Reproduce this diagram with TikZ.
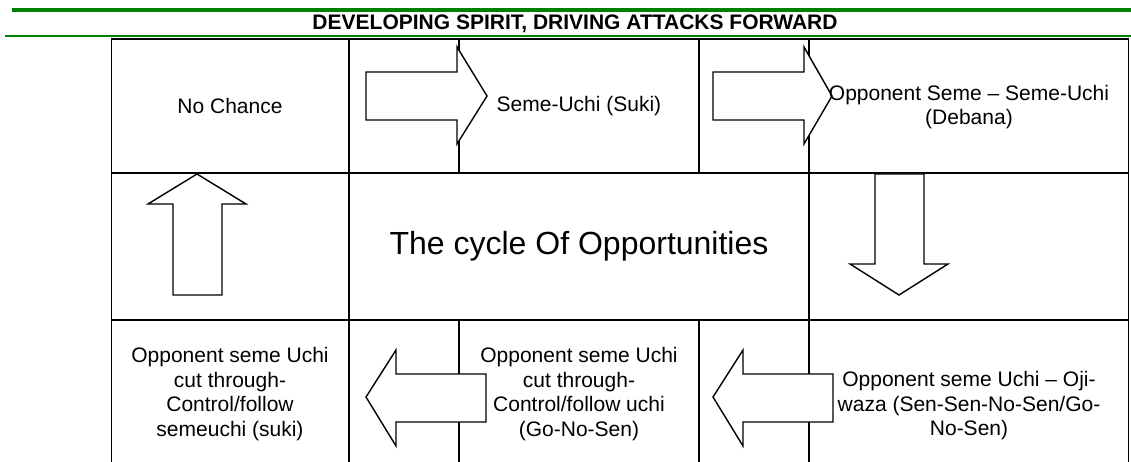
\documentclass[tikz,border=0pt]{standalone}
\usepackage{fontspec}
\setmainfont{Liberation Sans}
\definecolor{bargreen}{RGB}{0,128,0}

\begin{document}
\begin{tikzpicture}[
    x=1pt, y=-1pt,
    txt/.style={align=center, font=\fontsize{21}{24.5}\selectfont, inner sep=0pt},
    heading/.style={font=\fontsize{21}{24.5}\selectfont\bfseries, inner sep=0pt},
    big/.style={font=\fontsize{32}{38}\selectfont, inner sep=0pt},
    grid/.style={line width=1.8pt},
    blockarrow/.style={draw, fill=white, line width=1.4pt, line join=miter}
]
\useasboundingbox (0,0) rectangle (1131,462);

% green rules and heading
\draw[bargreen, line width=3.5pt] (12,10) -- (1131,10);
\draw[bargreen, line width=2pt] (5,36.3) -- (1131,36.3);
\node[heading] (title) at (575,24) {DEVELOPING SPIRIT, DRIVING ATTACKS FORWARD};

% table
\draw[grid] (111.5,462) -- (111.5,39) -- (1128.5,39) -- (1128.5,462);
\draw[grid] (111.5,173) -- (1128.5,173);
\draw[grid] (111.5,320) -- (1128.5,320);
\draw[grid] (349,39) -- (349,462);
\draw[grid] (809,39) -- (809,462);
\draw[grid] (459,39) -- (459,173) (459,320) -- (459,462);
\draw[grid] (699,39) -- (699,173) (699,320) -- (699,462);

% block arrows
\draw[blockarrow] (366,72) -- (457,72) -- (457,47) -- (487,96) -- (457,144) -- (457,120) -- (366,120) -- cycle;
\draw[blockarrow] (713,72) -- (804,72) -- (804,47) -- (832,96) -- (804,144) -- (804,120) -- (713,120) -- cycle;
\draw[blockarrow] (875,174) -- (875,264) -- (850,264) -- (899,295) -- (948,264) -- (924,264) -- (924,174) -- cycle;
\draw[blockarrow] (833,374) -- (743,374) -- (743,350) -- (713,397) -- (743,446) -- (743,422) -- (833,422) -- cycle;
\draw[blockarrow] (486,374) -- (396,374) -- (396,350) -- (366,397) -- (396,446) -- (396,422) -- (486,422) -- cycle;
\draw[blockarrow] (173,295) -- (173,204) -- (148,204) -- (197,174) -- (246,204) -- (222,204) -- (222,295) -- cycle;

% cell texts
\node[txt] (nochance) at (230,106) {No Chance};
\node[txt] (suki) at (579,106) {Seme-Uchi (Suki)};
\node[txt] (debana) at (969,107) {Opponent Seme -- Seme-Uchi\\(Debana)};
\node[big] (cycle) at (579,246) {The cycle Of Opportunities};
\node[txt] (ojiwaza) at (969,406) {Opponent seme Uchi -- Oji-\\waza (Sen-Sen-No-Sen/Go-\\No-Sen)};
\node[txt] (gonosen) at (579,394) {Opponent seme Uchi\\cut through-\\Control/follow uchi\\(Go-No-Sen)};
\node[txt] (cutsuki) at (230,394) {Opponent seme Uchi\\cut through-\\Control/follow\\semeuchi (suki)};
\end{tikzpicture}
\end{document}
